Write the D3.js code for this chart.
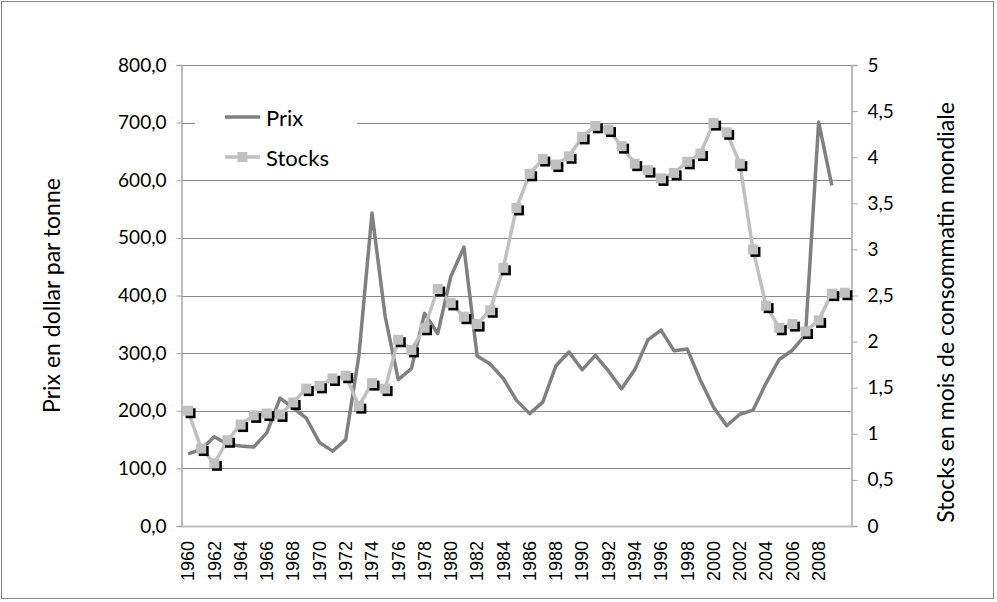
<!DOCTYPE html>
<html>
<head>
<meta charset="utf-8">
<script src="https://cdn.jsdelivr.net/npm/d3@7"></script>
<style>
  body { margin: 0; background: #fff; }
  svg { display: block; }
</style>
</head>
<body>
<div id="chart"></div>
<script>
// years on the category axis
const years = [
  1960, 1961, 1962, 1963, 1964, 1965, 1966, 1967, 1968, 1969,
  1970, 1971, 1972, 1973, 1974, 1975, 1976, 1977, 1978, 1979,
  1980, 1981, 1982, 1983, 1984, 1985, 1986, 1987, 1988, 1989,
  1990, 1991, 1992, 1993, 1994, 1995, 1996, 1997, 1998, 1999,
  2000, 2001, 2002, 2003, 2004, 2005, 2006, 2007, 2008, 2009, 2010
];
// price, dollar per tonne (no value for 2010)
const prix = [
  125, 133, 155, 142, 139, 137, 162, 222, 205, 187,
  145, 130, 150, 295, 543, 364, 254, 273, 369, 334,
  433, 484, 295, 281, 256, 218, 195, 215, 278, 302,
  271, 296, 269, 238, 271, 323, 340, 304, 307, 253,
  206, 174, 194, 201, 248, 289, 305, 332, 701, 591, null
];
// stocks, months of world consumption
const stocks = [
  1.25, 0.84, 0.68, 0.93, 1.10, 1.20, 1.22, 1.21, 1.34, 1.49,
  1.52, 1.60, 1.63, 1.30, 1.55, 1.49, 2.02, 1.91, 2.15, 2.57,
  2.42, 2.27, 2.19, 2.34, 2.80, 3.45, 3.82, 3.98, 3.92, 4.01,
  4.22, 4.34, 4.30, 4.12, 3.93, 3.86, 3.77, 3.83, 3.95, 4.04,
  4.37, 4.27, 3.93, 3.00, 2.39, 2.15, 2.19, 2.11, 2.23, 2.52, 2.53
];
const leftTicks = [0, 100, 200, 300, 400, 500, 600, 700, 800];
const rightTicks = [0, 0.5, 1, 1.5, 2, 2.5, 3, 3.5, 4, 4.5, 5];
const yearLabels = years.filter(y => y % 2 === 0 && y <= 2008);

const W = 997, H = 602;
const plot = {left: 181.5, right: 851.5, top: 65, bottom: 526};
const uiFont = 'Lato, "Open Sans", sans-serif';

const fr = d3.formatLocale({decimal: ',', thousands: ' ', grouping: [3], currency: ['', '']});
const fmtLeft = fr.format('.1f');
const fmtRight = fr.format('~g');

const svg = d3.select('#chart').append('svg')
  .attr('width', W)
  .attr('height', H);

// chart frame
svg.append('rect')
  .attr('x', 1.5).attr('y', 1.5)
  .attr('width', W - 5).attr('height', H - 5)
  .attr('fill', '#fff')
  .attr('stroke', '#868686');

const x = d3.scaleBand()
  .domain(years)
  .range([plot.left, plot.right]);
const xc = d => x(d) + x.bandwidth() / 2;
const yL = d3.scaleLinear().domain([0, 800]).range([plot.bottom, plot.top]);
const yR = d3.scaleLinear().domain([0, 5]).range([plot.bottom, plot.top]);

// gridlines
svg.append('g')
  .selectAll('line')
  .data(leftTicks.filter(t => t > 0))
  .enter().append('line')
  .attr('x1', plot.left).attr('x2', plot.right)
  .attr('y1', d => Math.round(yL(d)) + 0.5)
  .attr('y2', d => Math.round(yL(d)) + 0.5)
  .attr('stroke', '#8c8c8c')
  .attr('stroke-width', 1);

// left axis
const axL = svg.append('g')
  .attr('transform', `translate(${plot.left},0)`)
  .call(d3.axisLeft(yL).tickValues(leftTicks).tickFormat(fmtLeft).tickSize(5).tickPadding(10));
// right axis
const axR = svg.append('g')
  .attr('transform', `translate(${plot.right},0)`)
  .call(d3.axisRight(yR).tickValues(rightTicks).tickFormat(fmtRight).tickSize(6).tickPadding(10));
// bottom axis
const axB = svg.append('g')
  .attr('transform', `translate(0,${plot.bottom})`)
  .call(d3.axisBottom(x).tickValues(yearLabels).tickSize(0).tickPadding(0));

[axL, axR].forEach(a => {
  a.select('.domain').attr('stroke', '#a6a6a6').attr('stroke-width', 1.5);
  a.selectAll('.tick line').attr('stroke', '#a6a6a6');
  a.selectAll('.tick text')
    .attr('font-family', uiFont)
    .attr('font-size', 19)
    .attr('fill', '#000');
});
axB.select('.domain').attr('stroke', '#bfbfbf').attr('stroke-width', 2);
axB.selectAll('.tick text')
  .attr('font-family', '"Liberation Sans", Arial, sans-serif')
  .attr('font-size', 18)
  .attr('fill', '#000')
  .attr('transform', 'rotate(-90)')
  .attr('text-anchor', 'end')
  .attr('x', -15)
  .attr('y', 0)
  .attr('dy', '0.35em');

// axis titles
svg.append('text')
  .attr('transform', `translate(52,${(plot.top + plot.bottom) / 2}) rotate(-90)`)
  .attr('text-anchor', 'middle')
  .attr('dy', '0.35em')
  .attr('font-family', uiFont)
  .attr('font-size', 23)
  .text('Prix en dollar par tonne');
svg.append('text')
  .attr('transform', `translate(946,${(plot.top + plot.bottom) / 2 + 17}) rotate(-90)`)
  .attr('text-anchor', 'middle')
  .attr('dy', '0.35em')
  .attr('font-family', uiFont)
  .attr('font-size', 23)
  .text('Stocks en mois de consommatin mondiale');

// price line
const linePrix = d3.line()
  .defined(d => d.v !== null)
  .x(d => xc(d.year))
  .y(d => yL(d.v));
svg.append('path')
  .datum(years.map((year, i) => ({year, v: prix[i]})))
  .attr('d', linePrix)
  .attr('fill', 'none')
  .attr('stroke', '#808080')
  .attr('stroke-width', 3.5)
  .attr('stroke-linejoin', 'round');

// stocks line + markers
const stockData = years.map((year, i) => ({year, v: stocks[i]}));
const lineStocks = d3.line()
  .x(d => xc(d.year))
  .y(d => yR(d.v));
svg.append('path')
  .datum(stockData)
  .attr('d', lineStocks)
  .attr('fill', 'none')
  .attr('stroke', '#c0c0c0')
  .attr('stroke-width', 3.5)
  .attr('stroke-linejoin', 'round');

const ms = 10;
const marks = svg.append('g')
  .selectAll('g')
  .data(stockData)
  .enter().append('g')
  .attr('transform', d => `translate(${xc(d.year)},${yR(d.v)})`);
marks.append('rect')
  .attr('x', -ms / 2 + 2.5).attr('y', -ms / 2 + 2.5)
  .attr('width', ms).attr('height', ms)
  .attr('fill', '#000');
marks.append('rect')
  .attr('x', -ms / 2).attr('y', -ms / 2)
  .attr('width', ms).attr('height', ms)
  .attr('fill', '#c0c0c0');

// legend
const lg = svg.append('g');
lg.append('rect')
  .attr('x', 195).attr('y', 96)
  .attr('width', 162).attr('height', 78)
  .attr('fill', '#fff');
lg.append('line')
  .attr('x1', 225).attr('x2', 260)
  .attr('y1', 117).attr('y2', 117)
  .attr('stroke', '#808080').attr('stroke-width', 3.5);
lg.append('text')
  .attr('x', 266).attr('y', 118).attr('dy', '0.35em')
  .attr('font-family', uiFont).attr('font-size', 22)
  .text('Prix');
lg.append('line')
  .attr('x1', 225).attr('x2', 260)
  .attr('y1', 157).attr('y2', 157)
  .attr('stroke', '#c0c0c0').attr('stroke-width', 3.5);
lg.append('rect')
  .attr('x', 237.5).attr('y', 152)
  .attr('width', ms).attr('height', ms)
  .attr('fill', '#c0c0c0');
lg.append('text')
  .attr('x', 266).attr('y', 158).attr('dy', '0.35em')
  .attr('font-family', uiFont).attr('font-size', 22)
  .text('Stocks');
</script>
</body>
</html>
